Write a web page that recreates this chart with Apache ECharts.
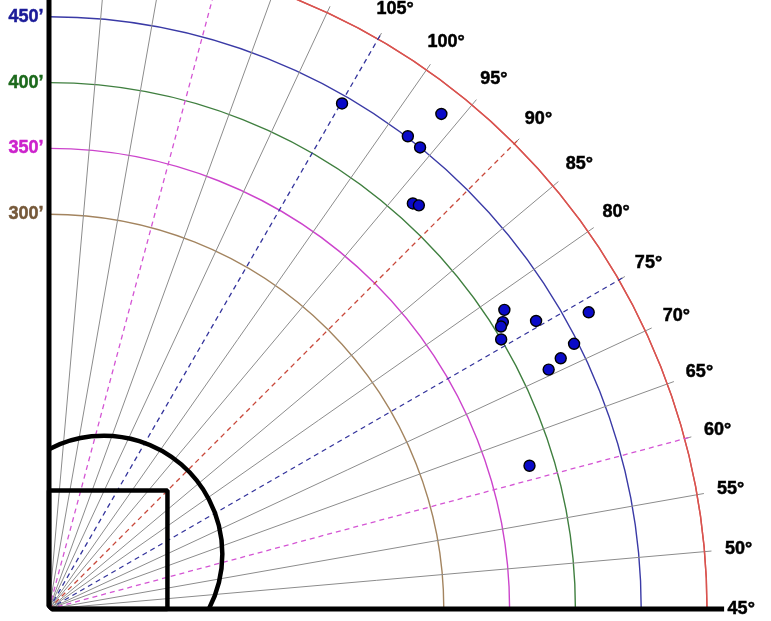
<!DOCTYPE html>
<html>
<head>
<meta charset="utf-8">
<script src="https://cdn.jsdelivr.net/npm/echarts@6/dist/echarts.min.js"></script>
<style>
html, body { margin: 0; padding: 0; background: #fff; }
#chart { width: 771px; height: 621px; }
</style>
</head>
<body>
<div id="chart"></div>
<script>
// distances in feet, angles in degrees (45 = right field line, 135 = left field line)
const angleLabels = [45, 50, 55, 60, 65, 70, 75, 80, 85, 90, 95, 100, 105];
const fenceArcs = [300, 350, 400, 450, 500];
const fenceColors = ['#a3845f', '#cc44cc', '#3f7f3f', '#3a3aa6', '#d9534f'];
const fenceLabels = [300, 350, 400, 450];
const fenceLabelColors = ['#76593a', '#cc22cc', '#1d6a1d', '#1c1c99'];
const guideAngles = [60, 75, 90, 105, 120];
const guideColors = ['#d455d4', '#34349c', '#c8483a', '#34349c', '#d455d4'];
const foulDistance = [513, 0, 0, 513];
const foulAngle = [45, 45, 135, 135];
const baseDistance = [0, 90, 127.3, 90, 0];
const baseAngle = [45, 45, 90, 135, 135];
const moundDistance = 59;
const infieldRadius = 90;
const hitDistance = [444, 480, 451, 450, 414, 416, 414, 430, 468, 408, 405, 400, 447, 433, 421, 381];
const hitAngle = [104.9, 96.6, 97.8, 96.2, 93.1, 92.5, 78.3, 75.6, 73.8, 77.3, 77.0, 75.8, 71.8, 71.1, 70.6, 61.6];

const font = 'Arial, "Liberation Sans", sans-serif';
const gray = '#8c8c8c';
const center = [49, 609];
const pxPerFoot = 658 / 500;

const chart = echarts.init(document.getElementById('chart'));

const angleGridColors = [];
for (let a = 45; a <= 135; a += 5) {
    angleGridColors.push(guideAngles.includes(a) ? 'transparent' : gray);
}
const radiusGridColors = [];
for (let d = 0; d <= 500; d += 50) {
    const i = fenceArcs.indexOf(d);
    radiusGridColors.push(i >= 0 ? fenceColors[i] : 'transparent');
}

// lines live on a second, wider (hidden) polar so nothing gets clipped at the fence
const lineSeries = function (data, style, z) {
    return {
        type: 'line',
        coordinateSystem: 'polar',
        polarIndex: 1,
        data: data,
        symbol: 'none',
        clip: false,
        silent: true,
        z: z,
        lineStyle: style,
    };
};

const series = [];
guideAngles.forEach((a, i) => {
    series.push(lineSeries([[0, a], [505, a]], { color: guideColors[i], width: 1.3, type: [5, 4] }, 3));
});
series.push(lineSeries(foulDistance.map((d, i) => [d, foulAngle[i]]), { color: '#000', width: 5, opacity: 1 }, 5));
series.push(lineSeries(baseDistance.map((d, i) => [d, baseAngle[i]]), { color: '#000', width: 4.5, opacity: 1 }, 5));
series.push({
    type: 'scatter',
    coordinateSystem: 'polar',
    polarIndex: 0,
    clip: false,
    z: 8,
    symbolSize: 11,
    itemStyle: { color: '#0a0ac8', borderColor: '#000', borderWidth: 1.4, opacity: 1 },
    data: hitDistance.map((d, i) => [d, hitAngle[i]]),
});
series.push({
    type: 'scatter',
    coordinateSystem: 'polar',
    polarIndex: 1,
    clip: false,
    silent: true,
    z: 9,
    symbolSize: 1,
    itemStyle: { color: 'transparent', opacity: 1 },
    label: {
        show: true,
        position: 'inside',
        formatter: (p) => p.value[1] + '°',
        color: '#000',
        textBorderColor: '#000',
        textBorderWidth: 0.5,
        fontSize: 18,
        fontWeight: 'bold',
        fontFamily: font,
    },
    data: angleLabels.map((a) => [526, a]),
});
series.push({
    type: 'scatter',
    coordinateSystem: 'polar',
    polarIndex: 1,
    clip: false,
    silent: true,
    z: 9,
    symbolSize: 1,
    itemStyle: { color: 'transparent', opacity: 1 },
    label: {
        show: true,
        position: 'left',
        distance: 5,
        formatter: (p) => p.value[0] + '’',
        fontSize: 18,
        fontWeight: 'bold',
        fontFamily: font,
        textBorderWidth: 0.5,
    },
    data: fenceLabels.map((d, i) => ({
        value: [d, 135],
        label: { color: fenceLabelColors[i], textBorderColor: fenceLabelColors[i] },
    })),
});

const hidden = {
    axisLine: { show: false },
    axisTick: { show: false },
    axisLabel: { show: false },
    splitLine: { show: false },
};

chart.setOption({
    animation: false,
    polar: [
        { center: center, radius: 500 * pxPerFoot },
        { center: center, radius: 600 * pxPerFoot },
    ],
    angleAxis: [{
        polarIndex: 0,
        type: 'value',
        min: 45,
        max: 135,
        interval: 5,
        startAngle: 0,
        endAngle: 90,
        clockwise: false,
        axisLine: { show: true, lineStyle: { color: '#d9534f', width: 1.4 } },
        axisTick: { show: true, length: 7, lineStyle: { color: gray } },
        axisLabel: { show: false },
        splitLine: { show: true, lineStyle: { color: angleGridColors, width: 1 } },
    }, Object.assign({
        polarIndex: 1,
        type: 'value',
        min: 0,
        max: 180,
        startAngle: -45,
        endAngle: 135,
        clockwise: false,
    }, hidden)],
    radiusAxis: [{
        polarIndex: 0,
        type: 'value',
        min: 0,
        max: 500,
        interval: 50,
        axisLine: { show: false },
        axisTick: { show: false },
        axisLabel: { show: false },
        splitLine: { show: true, lineStyle: { color: radiusGridColors, width: 1.4 } },
    }, Object.assign({
        polarIndex: 1,
        type: 'value',
        min: 0,
        max: 600,
    }, hidden)],
    series: series,
});

// infield arc around the mound, placed through the polar scale
const toPx = (v) => chart.convertToPixel({ seriesIndex: 0 }, v);
const origin = toPx([0, 45]);
const mound = toPx([moundDistance, 90]);
const r = toPx([infieldRadius, 45])[0] - origin[0];
const dxL = origin[0] - mound[0];
const dyB = origin[1] - mound[1];
const a1 = Math.atan2(-Math.sqrt(r * r - dxL * dxL), dxL);
const a2 = Math.atan2(dyB, Math.sqrt(r * r - dyB * dyB));
chart.setOption({
    graphic: [{
        type: 'arc',
        z: 10,
        silent: true,
        shape: { cx: mound[0], cy: mound[1], r: r, startAngle: a1, endAngle: a2, clockwise: true },
        style: { stroke: '#000', lineWidth: 4.5, fill: null },
    }],
});
</script>
</body>
</html>
